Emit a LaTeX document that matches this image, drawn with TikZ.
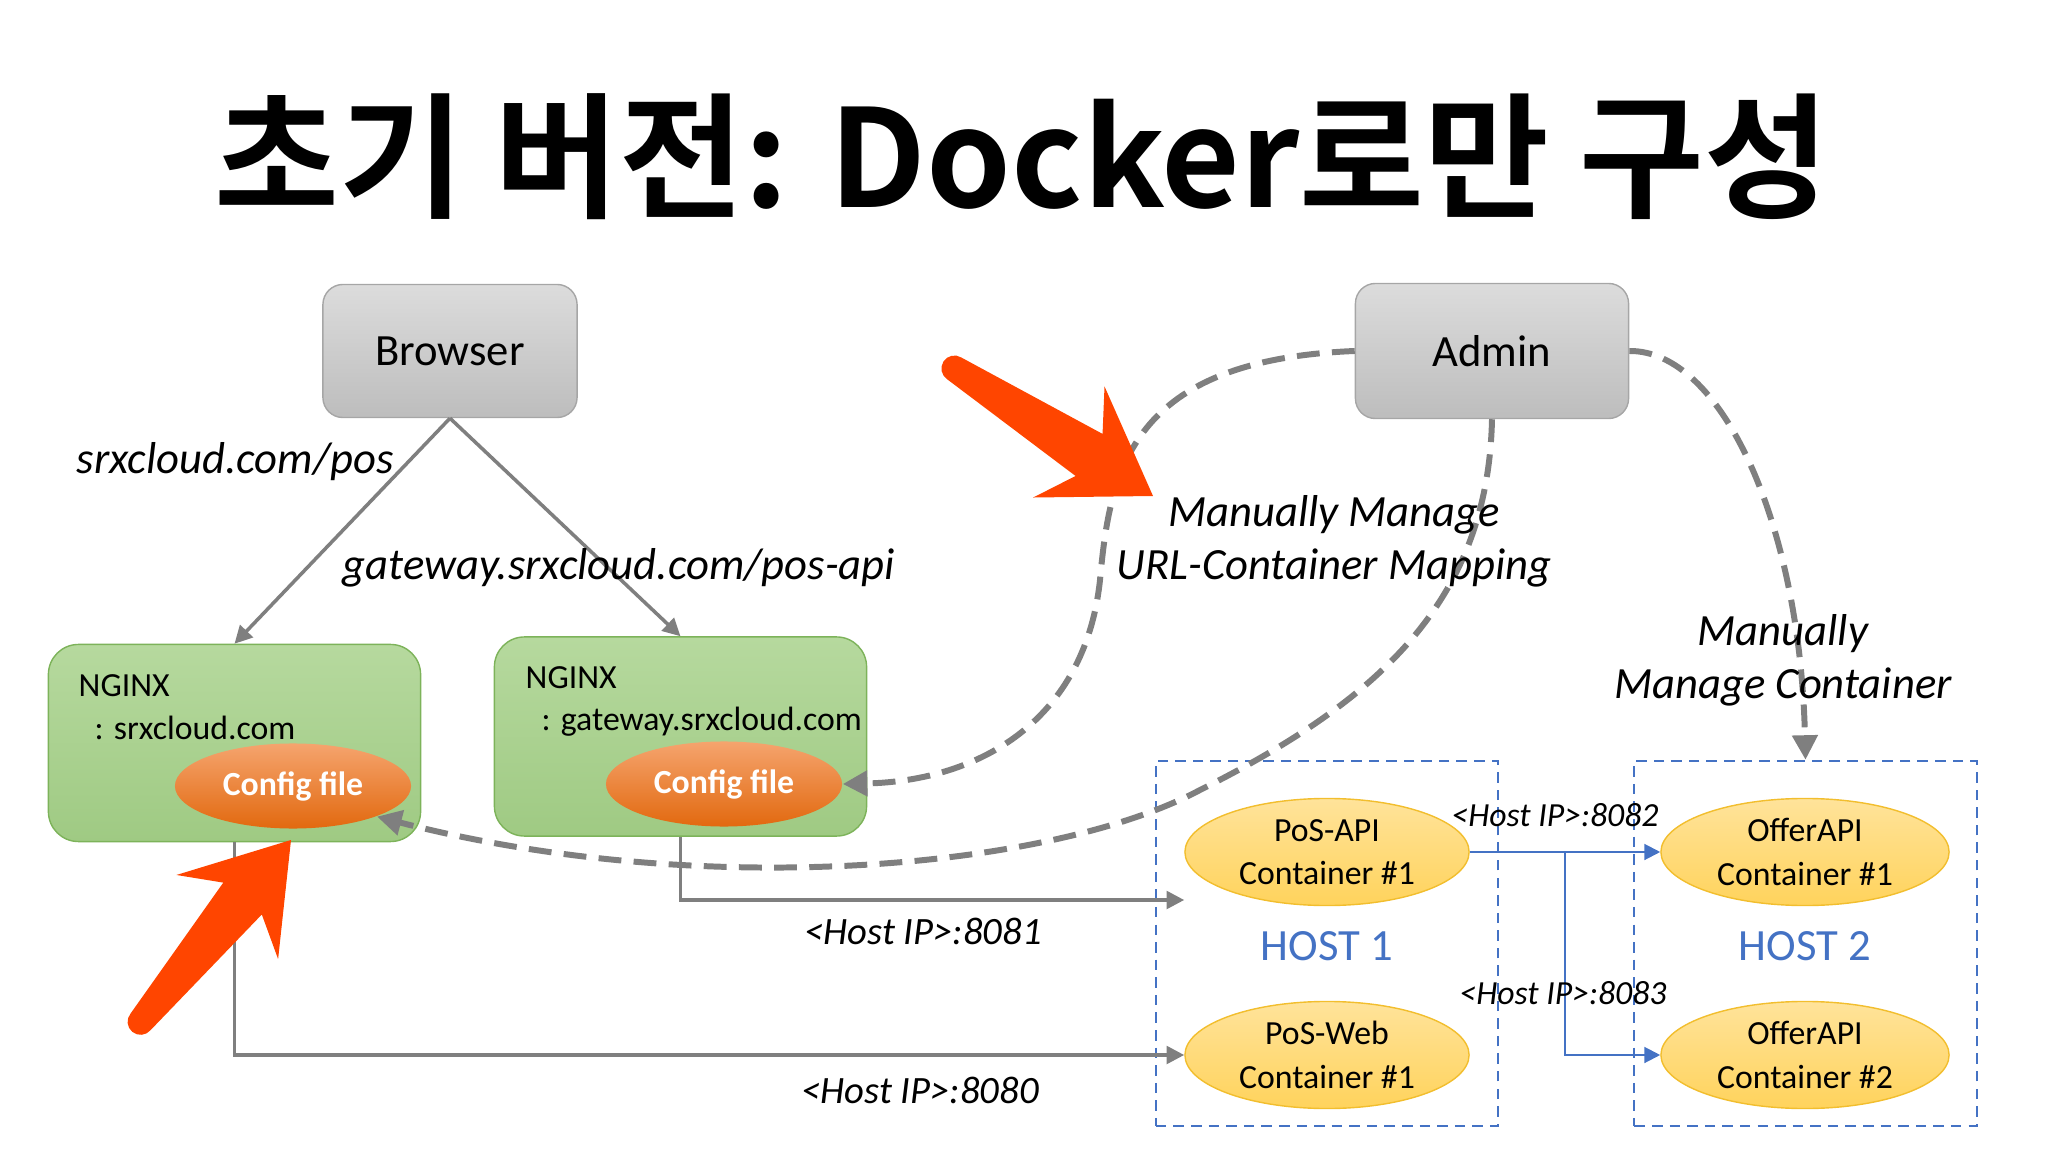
\documentclass[tikz,border=0pt]{standalone}
\usepackage{fontspec}
\setmainfont{Carlito}
\newfontfamily\titlefont{Noto Sans CJK KR Bold}
\usetikzlibrary{shapes.geometric,arrows.meta,calc}
\definecolor{linegray}{HTML}{7F7F7F}
\definecolor{boxtop}{HTML}{DCDCDC}
\definecolor{boxbottom}{HTML}{BDBDBD}
\definecolor{boxborder}{HTML}{A6A6A6}
\definecolor{greentop}{HTML}{B6D99E}
\definecolor{greenbottom}{HTML}{9FCA83}
\definecolor{greenborder}{HTML}{7DB35A}
\definecolor{cfgtop}{HTML}{F5A46E}
\definecolor{cfgbottom}{HTML}{E2690F}
\definecolor{ctrtop}{HTML}{FFE39A}
\definecolor{ctrbottom}{HTML}{FFD35C}
\definecolor{ctrborder}{HTML}{F2BE2E}
\definecolor{hostblue}{HTML}{4472C4}
\definecolor{pointred}{HTML}{FF4500}
\newcommand{\lblsize}{\fontsize{12.7}{15.1}\selectfont}
\newcommand{\portsize}{\fontsize{11}{13}\selectfont}
\newcommand{\ctrsize}{\fontsize{9.6}{12.3}\selectfont}
\tikzset{
  pointer/.pic={
    \fill[pointred] (0,0) -- (100,66) -- (76,25) -- (236,13)
      arc[start angle=90,end angle=-90,radius=13] -- (76,-25) -- (100,-66) -- cycle;
  }
}
\begin{document}
\begin{tikzpicture}[x=0.01cm,y=-0.01cm,
   >={Triangle[length=5pt,width=5pt]},
   grayb/.style={draw=boxborder,top color=boxtop,bottom color=boxbottom,
     rounded corners=0.2cm,minimum width=2.54cm,minimum height=1.33cm,font=\lblsize},
   greenb/.style={draw=greenborder,top color=greentop,bottom color=greenbottom,
     rounded corners=0.3cm,minimum width=3.72cm,minimum height=1.97cm},
   cfg/.style={ellipse,inner sep=0pt,minimum width=2.36cm,minimum height=0.85cm,
     top color=cfgtop,bottom color=cfgbottom,text=white,font=\ctrsize\bfseries},
   ctr/.style={ellipse,draw=ctrborder,inner sep=0pt,minimum width=2.84cm,
     minimum height=1.07cm,top color=ctrtop,bottom color=ctrbottom,align=center,font=\ctrsize},
   host/.style={draw=hostblue,dash pattern=on 3pt off 2pt,line width=0.6pt,
     minimum width=3.42cm,minimum height=3.65cm},
   wire/.style={linegray,line width=1pt,->},
   manual/.style={linegray,line width=1.7pt,dash pattern=on 6.5pt off 3.5pt,
     -{Triangle[length=7pt,width=7pt]}},
   bluewire/.style={hostblue,line width=0.6pt,-{Triangle[length=4.5pt,width=4.5pt]}},
   url/.style={font=\lblsize\itshape},
   port/.style={font=\portsize\itshape},
   nginxtxt/.style={anchor=base west,inner sep=0pt,font=\ctrsize}]
  \useasboundingbox (0,0) rectangle (2048,1152);

  \node[font=\titlefont\fontsize{38.6}{40}\selectfont] (title) at (1022,157) {초기 버전: Docker로만 구성};

  \node[grayb] (browser) at (450,351) {Browser};
  \node[grayb,minimum width=2.73cm,minimum height=1.35cm] (admin) at (1492,351) {Admin};

  \node[greenb] (nginx1) at (234.5,743) {};
  \node[greenb,minimum height=1.99cm] (nginx2) at (680.5,736.5) {};
  \node[nginxtxt] (ngname1) at (78,696) {NGINX};
  \node[nginxtxt] (ngdom1) at (94,739) {: srxcloud.com};
  \node[nginxtxt] (ngname2) at (525,688) {NGINX};
  \node[nginxtxt] (ngdom2) at (541,730) {: gateway.srxcloud.com};
  \node[cfg] (cfg1) at (293,786) {Config file};
  \node[cfg] (cfg2) at (724,784) {Config file};

  \node[host] (host1) at (1327,943.5) {};
  \node[host] (host2) at (1805.5,943.5) {};
  \node[ctr] (posapi) at (1327,852) {PoS-API\\Container \#1};
  \node[ctr] (posweb) at (1327,1055) {PoS-Web\\Container \#1};
  \node[ctr,minimum width=2.88cm] (offer1) at (1805,852) {OfferAPI\\Container \#1};
  \node[ctr,minimum width=2.88cm] (offer2) at (1805,1055) {OfferAPI\\Container \#2};
  \node[anchor=base,text=hostblue,font=\lblsize] (hostname1) at (1327,960) {HOST 1};
  \node[anchor=base,text=hostblue,font=\lblsize] (hostname2) at (1805,960) {HOST 2};

  \draw[wire] (browser.south) -- (nginx1.north);
  \draw[wire] (browser.south) -- (nginx2.north);
  \draw[wire] (nginx2.south) |- ($(posapi.west)+(0,48)$);
  \draw[wire] (nginx1.south) |- (posweb.west);

  \coordinate (split) at ($(posapi.east)!0.5!(offer1.west)$);
  \draw[bluewire] (posapi.east) -- (offer1.west);
  \draw[bluewire] (split) |- (offer2.west);

  \draw[manual] (admin.west) .. controls (1130,360) and (1110,470) .. (1100,580)
     .. controls (1085,720) and (980,781) .. (cfg2.east);
  \draw[manual] (admin.south) .. controls (1488,600) and (1380,700) .. (1200,790)
     .. controls (1050,870) and (700,900) .. (cfg1.south east);
  \draw[manual] (admin.east) .. controls (1720,350) and (1800,520) .. (host2.north);

  \node[url,anchor=base west,inner sep=0pt] (urlpos) at (76,474) {srxcloud.com/pos};
  \node[url,anchor=base west,inner sep=0pt] (urlapi) at (342,580) {gateway.srxcloud.com/pos-api};
  \node[url,align=center] (mapping) at (1334,541) {Manually Manage\\URL-Container Mapping};
  \node[url,align=center] (manage) at (1783,660) {Manually\\Manage Container};
  \node[port,anchor=base] (port8081) at (923,944) {<Host IP>:8081};
  \node[port,anchor=base] (port8080) at (920,1103) {<Host IP>:8080};
  \node[port,anchor=base,font=\ctrsize\itshape] (port8082) at (1555,826) {<Host IP>:8082};
  \node[port,anchor=base,font=\ctrsize\itshape] (port8083) at (1563,1004) {<Host IP>:8083};

  \pic[rotate=147.3] at (1153,496) {pointer};
  \pic[rotate=230.4] at (291,840) {pointer};
\end{tikzpicture}
\end{document}
